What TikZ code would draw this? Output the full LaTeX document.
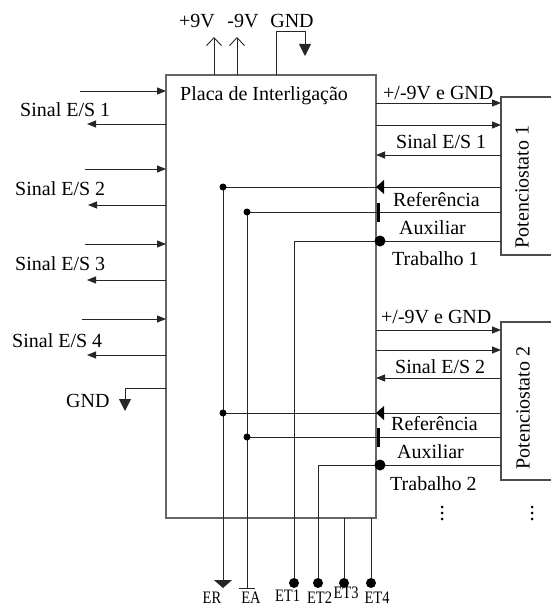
\documentclass[tikz,border=0pt]{standalone}
\usepackage{fontspec}
\setmainfont{Liberation Serif}
\usetikzlibrary{arrows.meta}
\begin{document}
\begin{tikzpicture}[x=1pt,y=-1pt,
  lbl/.style={inner sep=0pt, font=\fontsize{20}{22}\selectfont},
  sml/.style={inner sep=0pt, font=\fontsize{17.5}{20}\selectfont},
  wire/.style={line width=0.9pt, black!85},
  inarr/.style={wire, -{Triangle[length=9pt,width=7pt]}},
  openarr/.style={wire, -{Straight Barb[length=8pt,width=15pt]}},
  gndarr/.style={wire, -{Triangle[length=12pt,width=12pt]}},
  erarr/.style={wire, -{Triangle[length=8pt,width=18pt]}},
  jdot/.style={circle, fill=black, inner sep=0pt, minimum size=7pt},
  bdot/.style={circle, fill=black, inner sep=0pt, minimum size=11pt},
  edot/.style={circle, fill=black, inner sep=0pt, minimum size=10pt},
  mainbox/.style={draw=black!60, line width=1.3pt, inner sep=0pt, outer sep=0pt, minimum width=210pt, minimum height=443pt},
  potline/.style={draw=black!70, line width=1.1pt}
]
\useasboundingbox (0,0) rectangle (551,607);

% main board
\node[mainbox, anchor=north west] (main) at (166,75) {};
\node[lbl, anchor=base west] (placa) at (180,101) {Placa de Interligação};

% top supplies
\node[lbl, anchor=base] (p9) at (197,28) {+9V};
\node[lbl, anchor=base] (m9) at (243,28) {-9V};
\node[lbl, anchor=base] (gndt) at (292,28) {GND};
\coordinate (p9a) at (214,75); \coordinate (p9b) at (214,37);
\coordinate (m9a) at (237,75); \coordinate (m9b) at (237,37);
\draw[openarr] (p9a) -- (p9b);
\draw[openarr] (m9a) -- (m9b);
\coordinate (gta) at (276,75); \coordinate (gtb) at (305,56);
\draw[gndarr] (gta) -- (276,31) -- (305,31) -- (gtb);

% left signals
\node[lbl, anchor=base west] (ls1) at (20,117) {Sinal E/S 1};
\node[lbl, anchor=base west] (ls2) at (15,195) {Sinal E/S 2};
\node[lbl, anchor=base west] (ls3) at (15,270) {Sinal E/S 3};
\node[lbl, anchor=base west] (ls4) at (12,347) {Sinal E/S 4};
\node[lbl, anchor=base west] (gndl) at (66,407) {GND};
\draw[inarr] (80,91) -- (166,91);
\draw[inarr] (166,124) -- (87,124);
\draw[inarr] (85,169) -- (166,169);
\draw[inarr] (166,205) -- (88,205);
\draw[inarr] (85,244) -- (166,244);
\draw[inarr] (166,280) -- (87,280);
\draw[inarr] (82,319) -- (166,319);
\draw[inarr] (166,355) -- (87,355);
\draw[gndarr] (166,388) -- (125,388) -- (125,411);

% potentiostat boxes
\draw[potline] (551,97) -- (501,97) -- (501,255) -- (551,255);
\node[lbl, rotate=90] (pot1) at (522,187) {Potenciostato 1};
\draw[potline] (551,322) -- (501,322) -- (501,480) -- (551,480);
\node[lbl, rotate=90] (pot2) at (523,408) {Potenciostato 2};

% pot 1 connections
\node[lbl, anchor=base west] (v1) at (383,100) {+/-9V e GND};
\node[lbl, anchor=base west] (r1s) at (396,148) {Sinal E/S 1};
\node[lbl, anchor=base west] (ref1) at (393,206) {Referência};
\node[lbl, anchor=base west] (aux1) at (399,234) {Auxiliar};
\node[lbl, anchor=base west] (tr1) at (392,265) {Trabalho 1};
\draw[inarr] (376,103) -- (501,103);
\draw[inarr] (376,125) -- (501,125);
\draw[inarr] (501,155) -- (376,155);

% pot 2 connections
\node[lbl, anchor=base west] (v2) at (381,323) {+/-9V e GND};
\node[lbl, anchor=base west] (r2s) at (395,373) {Sinal E/S 2};
\node[lbl, anchor=base west] (ref2) at (391,430) {Referência};
\node[lbl, anchor=base west] (aux2) at (397,458) {Auxiliar};
\node[lbl, anchor=base west] (tr2) at (390,490) {Trabalho 2};
\draw[inarr] (376,330) -- (501,330);
\draw[inarr] (376,350) -- (501,350);
\draw[inarr] (501,378) -- (376,378);

% electrode terminals
\node[edot] (et1) at (294,583) {};
\node[edot] (et2) at (318,583) {};
\node[edot] (et3) at (344,583) {};
\node[edot] (et4) at (371,583) {};
\coordinate (er) at (223,588);
\coordinate (ea) at (247,588);

% reference lines
\draw[erarr] (501,187) -- (223,187) -- (er);
\draw[wire] (501,413) -- (223,413);
\node[jdot] (j1) at (223,187) {};
\node[jdot] (j2) at (223,413) {};
\fill (376,187) -- (384,180) -- (384,194) -- cycle;
\fill (376,413) -- (384,406) -- (384,420) -- cycle;

% auxiliary lines
\draw[wire] (501,212) -- (247,212) -- (ea);
\draw[wire] (501,437) -- (247,437);
\draw[wire] (239,588) -- (255,588);
\node[jdot] (j3) at (247,212) {};
\node[jdot] (j4) at (247,437) {};
\draw[line width=3.3pt] (378.5,203) -- (378.5,222);
\draw[line width=3.3pt] (378.5,428) -- (378.5,447);

% working lines
\draw[wire] (501,241) -- (294,241) -- (et1);
\draw[wire] (501,465) -- (318,465) -- (et2);
\draw[wire] (344,518) -- (et3);
\draw[wire] (371,518) -- (et4);
\node[bdot] (w1) at (380,241) {};
\node[bdot] (w2) at (380,465) {};

% bottom labels
\node[sml, anchor=base] (ler) at (212,603) {\scalebox{0.83}[1]{ER}};
\node[sml, anchor=base] (lea) at (251,603) {\scalebox{0.83}[1]{EA}};
\node[sml, anchor=base] (let1) at (287.5,601) {\scalebox{0.83}[1]{ET1}};
\node[sml, anchor=base] (let2) at (319.5,603) {\scalebox{0.83}[1]{ET2}};
\node[sml, anchor=base] (let3) at (346,598) {\scalebox{0.83}[1]{ET3}};
\node[sml, anchor=base] (let4) at (377,603) {\scalebox{0.83}[1]{ET4}};

% continuation dots
\foreach \yy in {507,513,519} {
  \fill (442,\yy) circle (1.5pt);
  \fill (532,\yy) circle (1.5pt);
}
\end{tikzpicture}
\end{document}
